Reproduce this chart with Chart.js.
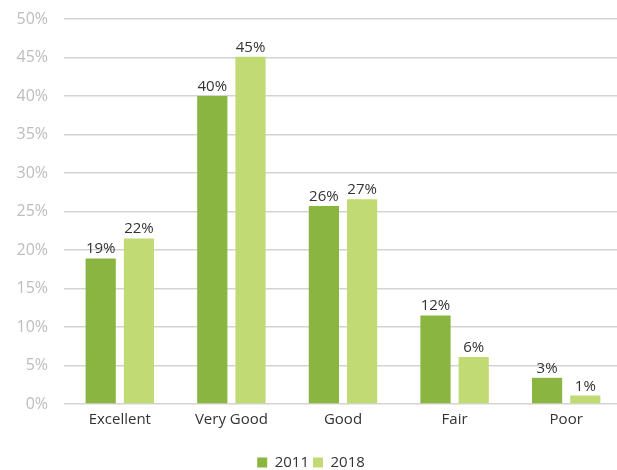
<!DOCTYPE html>
<html>
<head>
<meta charset="utf-8">
<script src="https://cdn.jsdelivr.net/npm/chart.js@4"></script>
<style>
html,body{margin:0;padding:0;background:#fff;overflow:hidden;}
#wrap{width:617px;height:470px;overflow:hidden;}
</style>
</head>
<body>
<div id="wrap"><canvas id="c" width="622" height="470"></canvas></div>
<script>
const categories = ["Excellent", "Very Good", "Good", "Fair", "Poor"];
const seriesNames = ["2011", "2018"];
const values2011 = [18.9, 40.0, 25.7, 11.5, 3.4];
const values2018 = [21.5, 45.1, 26.6, 6.1, 1.1];
const labels2011 = ["19%", "40%", "26%", "12%", "3%"];
const labels2018 = ["22%", "45%", "27%", "6%", "1%"];
const yTicks = [0, 5, 10, 15, 20, 25, 30, 35, 40, 45, 50];

const FONT = "'Open Sans', Lato, sans-serif";
Chart.defaults.font.family = FONT;
Chart.defaults.font.size = 15;

const dataLabelPlugin = {
  id: 'dataLabels',
  afterDatasetsDraw(chart) {
    const ctx = chart.ctx;
    const texts = [labels2011, labels2018];
    ctx.save();
    ctx.font = "15px " + FONT;
    ctx.fillStyle = "#333333";
    ctx.textAlign = "center";
    ctx.textBaseline = "alphabetic";
    chart.data.datasets.forEach((ds, di) => {
      const meta = chart.getDatasetMeta(di);
      meta.data.forEach((bar, i) => {
        ctx.fillText(texts[di][i], bar.x, bar.y - 5);
      });
    });
    ctx.restore();
  }
};

new Chart(document.getElementById('c'), {
  type: 'bar',
  data: {
    labels: categories,
    datasets: [
      { label: seriesNames[0], data: values2011, backgroundColor: '#8ab540', categoryPercentage: 0.685, barPercentage: 0.79 },
      { label: seriesNames[1], data: values2018, backgroundColor: '#c2da74', categoryPercentage: 0.685, barPercentage: 0.79 }
    ]
  },
  options: {
    responsive: false,
    animation: false,
    layout: { padding: { top: 19, right: 0, bottom: -10, left: 0 } },
    plugins: {
      legend: {
        position: 'bottom',
        labels: {
          boxWidth: 10, boxHeight: 10, color: '#333333',
          font: { size: 15, family: FONT },
          padding: 4
        }
      },
      tooltip: { enabled: false }
    },
    scales: {
      x: {
        afterFit(scale) { scale.height = 47; },
        grid: { display: false, drawTicks: false },
        border: { display: false },
        ticks: { color: '#333333', font: { size: 15, family: FONT }, padding: 7 }
      },
      y: {
        min: 0, max: 50,
        afterFit(scale) { scale.width = 64; scale.paddingTop = 0; },
        afterBuildTicks(scale) { scale.ticks = yTicks.map(v => ({ value: v })); },
        grid: { color: '#d3d3d3', lineWidth: 1.5, drawTicks: false },
        border: { display: false },
        ticks: {
          color: '#bdbdbd', font: { size: 16, family: FONT }, padding: 16,
          callback: v => v + '%'
        }
      }
    }
  },
  plugins: [dataLabelPlugin]
});
</script>
</body>
</html>
